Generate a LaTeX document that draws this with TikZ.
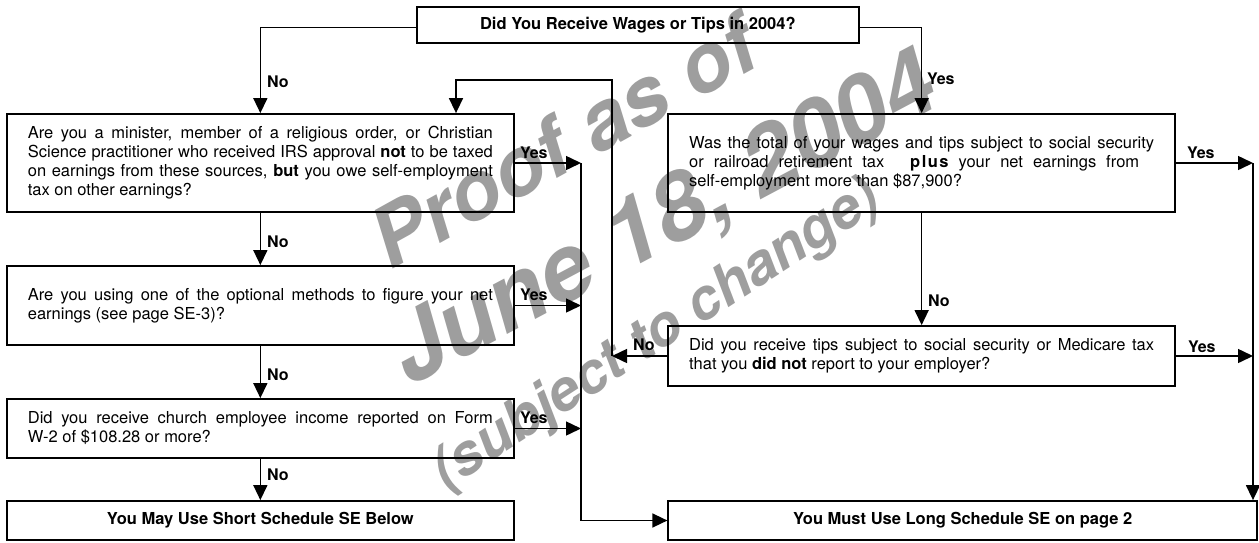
\documentclass[tikz,border=0pt]{standalone}
\usepackage{fontspec}
\setmainfont{TeX Gyre Heros}
\usetikzlibrary{arrows.meta}
\definecolor{wm}{RGB}{158,158,158}
\newcommand\bxfont{\fontsize{16.5pt}{19pt}\selectfont}
\newcommand\lbfont{\fontsize{16pt}{19pt}\selectfont\bfseries}
\newcommand\nsp{\spaceskip=0pt\xspaceskip=0pt\relax}
\newcommand\jl[1]{\makebox[465pt][s]{\spaceskip=.278em plus 1em minus .06em\relax #1}}
\newcommand\jw[2]{\makebox[#1][s]{\spaceskip=.278em plus 1em minus .06em\relax #2}}
\begin{document}
\begin{tikzpicture}[x=1pt,y=-1pt,
  box/.style={draw, line width=1.8pt, rectangle, inner sep=0pt, font=\bxfont, align=left, text width=465pt, minimum width=507.3pt},
  tbox/.style={draw, line width=1.8pt, rectangle, inner sep=0pt, font=\bxfont\bfseries, align=center},
  conn/.style={line width=1.5pt},
  arr/.style={conn, -{Triangle[length=15pt,width=14pt]}},
  lab/.style={font=\lbfont, inner sep=0pt, anchor=west},
  wmk/.style={text=wm, inner sep=0pt}]

\useasboundingbox (0,0) rectangle (1259,542);

% watermark
\node[wmk, rotate=29, font=\fontsize{82pt}{82pt}\selectfont\bfseries\itshape] (w1) at (563,141) {Proof as of};
\node[wmk, rotate=28, font=\fontsize{93pt}{93pt}\selectfont\bfseries\itshape] (w2) at (665,222) {June 18, 2004};
\node[wmk, rotate=33, font=\fontsize{57pt}{57pt}\selectfont\bfseries\itshape] (w3) at (657,336) {(subject to change)};

% boxes
\node[tbox, minimum width=442.3pt, minimum height=36pt] (top) at (637.85,25.3) {Did You Receive Wages or Tips in 2004?};

\node[box, minimum height=98pt] (b1) at (260.35,163) {\nsp\jl{Are you a minister, member of a religious order, or Christian}\\
\jl{Science practitioner who received IRS approval \textbf{not} to be taxed}\\
\jl{on earnings from these sources, \textbf{but} you owe self-employment}\\
tax on other earnings?};

\node[box, minimum height=79pt] (b2) at (260.35,305.5) {\nsp\jl{Are you using one of the optional methods to figure your net}\\
earnings (see page SE-3)?};

\node[box, minimum height=59pt] (b4) at (260.35,428.5) {\nsp\jl{Did you receive church employee income reported on Form}\\
W-2 of \$108.28 or more?};

\node[tbox, minimum width=507.3pt, minimum height=39pt] (b5) at (260.35,520.5) {You May Use Short Schedule SE Below};

\node[box, minimum width=506.7pt, minimum height=98pt] (b3) at (921.65,163) {\nsp\jl{Was the total of your wages and tips subject to social security}\\
\jw{450pt}{or railroad retirement tax \hspace{6pt} \textbf{p\kern1.5pt l\kern1.5pt u\kern1.5pt s} your net earnings from}\\
self-employment more than \$87,900?};

\node[box, minimum width=506.7pt, minimum height=60pt] (tips) at (921.65,356) {\nsp\jl{Did you receive tips subject to social security or Medicare tax}\\
that you \textbf{did not} report to your employer?};

\node[tbox, minimum width=588.7pt, minimum height=39pt] (long) at (962.65,520.5) {You Must Use Long Schedule SE on page 2};

% junction coordinates
\coordinate (jl1) at (581,163);
\coordinate (jr1) at (1253,163);
\coordinate (lp) at (612,356);
\coordinate (lpt) at (612,80);

% connectors
\draw[arr] ([yshift=-2.4pt]top.west) -| (b1.north);
\draw[arr] ([yshift=-2.4pt]top.east) -| (b3.north);
\draw[arr] (b1.south) -- (b2.north);
\draw[arr] (b2.south) -- (b4.north);
\draw[arr] (b4.south) -- (b5.north);
\draw[arr] (b3.south) -- (tips.north);

\draw[arr] (b1.east) -- (jl1);
\draw[arr] (b2.east) -- (b2.east -| jl1);
\draw[arr] (b4.east) -- (b4.east -| jl1);
\draw[arr] (jl1) |- (long.west);

\draw[arr] (b3.east) -- (jr1);
\draw[arr] (tips.east) -- (tips.east -| jr1);
\draw[arr] (jr1) -- (jr1 |- long.north);

\draw[arr] (tips.west) -- (lp);
\draw[arr] (lp) -- (lpt) -| ([xshift=195.65pt]b1.north);

% labels
\node[lab] (l1) at (267,82) {No};
\node[lab] (l2) at (267,242) {No};
\node[lab] (l3) at (267,375) {No};
\node[lab] (l4) at (267,475) {No};
\node[lab] (l5) at (927,79) {Yes};
\node[lab] (l6) at (928,301) {No};
\node[lab] (l7) at (520,152.7) {Yes};
\node[lab] (l8) at (520,295) {Yes};
\node[lab] (l9) at (520,418) {Yes};
\node[lab] (l10) at (1187,152.7) {Yes};
\node[lab] (l11) at (1188,347) {Yes};
\node[lab] (l12) at (633,345) {No};
\end{tikzpicture}
\end{document}
